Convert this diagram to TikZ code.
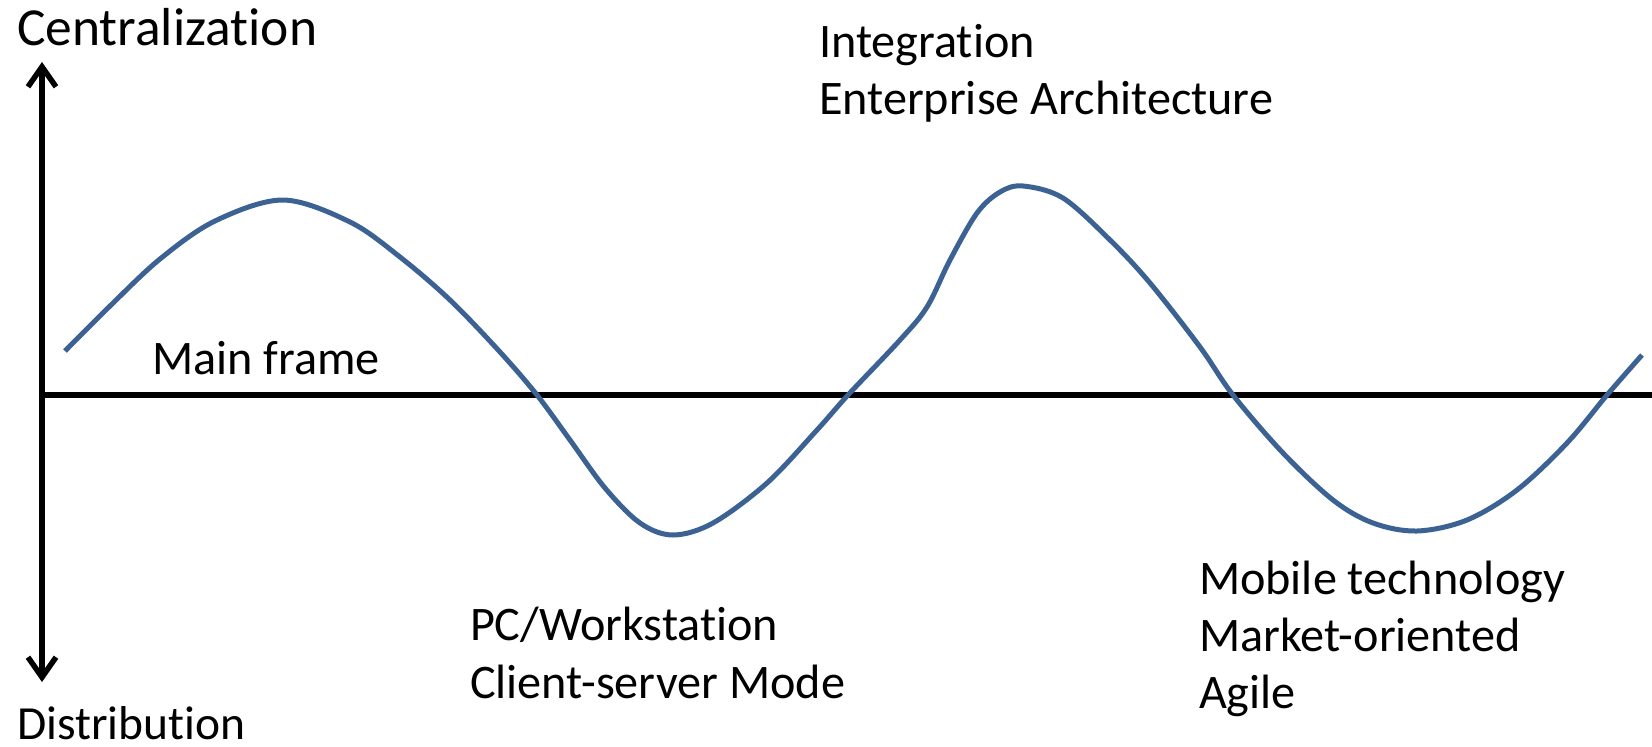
\documentclass[tikz,border=0pt]{standalone}
\usepackage{fontspec}
\setmainfont{Carlito}[Ligatures={NoCommon}]
\usetikzlibrary{arrows.meta}
\definecolor{wave}{RGB}{60,98,148}
\tikzset{
  axis/.style={line width=5.5pt, black},
  axisarrow/.style={axis, {Straight Barb[length=20pt,width=28pt]}-{Straight Barb[length=20pt,width=28pt]}},
  label/.style={anchor=base west, inner sep=0pt, outer sep=0pt, font=\fontsize{48.2pt}{57pt}\selectfont},
  biglabel/.style={label, font=\fontsize{53.5pt}{60pt}\selectfont},
  smalllabel/.style={label, font=\fontsize{47.5pt}{57pt}\selectfont},
  wavecurve/.style={line width=5pt, wave, line join=round}
}
\begin{document}
\begin{tikzpicture}[x=1pt, y=-1pt]
  \useasboundingbox (0,0) rectangle (1652,747);

  % axes
  \coordinate (top) at (42,62);
  \coordinate (bottom) at (42,682);
  \coordinate (origin) at (42,395);
  \coordinate (right) at (1652,395);
  \draw[axisarrow] (bottom) -- (top);
  \draw[axis] (origin) -- (right);

  % oscillating trend between centralization and distribution
  \draw[wavecurve] plot[smooth, tension=0.55] coordinates {
    (65,351) (110,306) (160,259) (215,221) (283,200) (350,222) (400,257)
    (450,300) (500,352) (537,395) (570,440) (605,488) (640,523) (673,535)
    (713,523) (767,483) (817,430) (848,395) (900,340) (927,307) (950,260)
    (977,213) (1000,192) (1023,186) (1063,198) (1110,240) (1150,283)
    (1200,347) (1233,395) (1283,453) (1333,500) (1373,523) (1417,531)
    (1467,520) (1517,490) (1567,443) (1607,395) (1642,355)};

  % axis labels
  \node[biglabel] (cen) at (17,45) {Centralization};
  \node[smalllabel] (dist) at (17,739) {Distribution};

  % era labels
  \node[label] (mainf) at (152,374) {Main frame};
  \node[label] (integ) at (819,57) {Integration};
  \node[label] (ea) at (819,114) {Enterprise Architecture};
  \node[label] (pcws) at (470,640) {PC/Workstation};
  \node[label] (csm) at (470,698) {Client-server Mode};
  \node[label] (mobile) at (1199,594) {Mobile technology};
  \node[label] (market) at (1199,651) {Market-oriented};
  \node[label] (agile) at (1199,708) {Agile};
\end{tikzpicture}
\end{document}
